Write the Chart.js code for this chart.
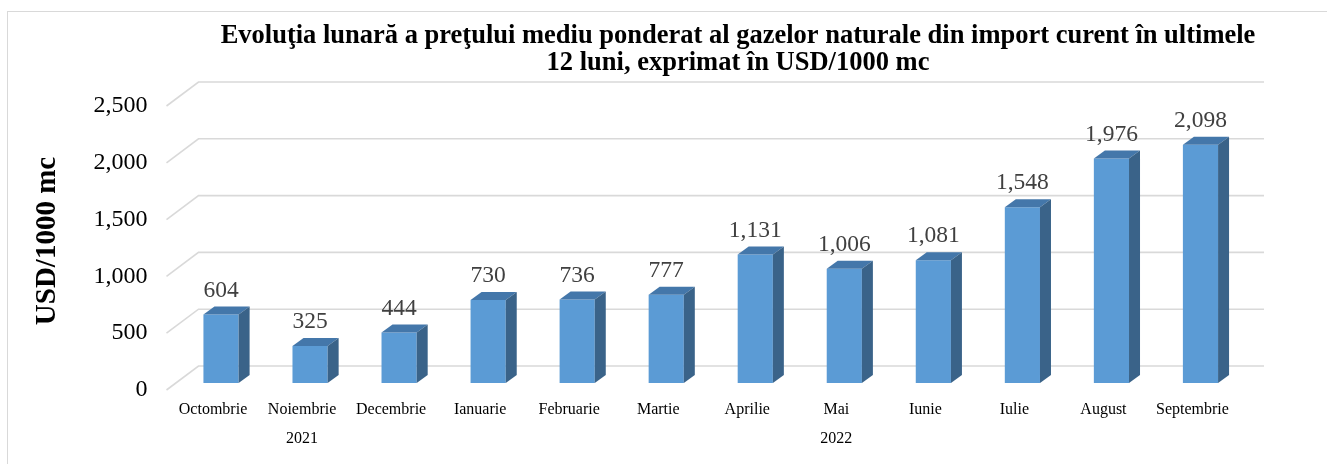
<!DOCTYPE html>
<html>
<head>
<meta charset="utf-8">
<script src="https://cdn.jsdelivr.net/npm/chart.js@4"></script>
<style>
  html, body { margin: 0; padding: 0; background: #fff; }
  #wrap { width: 1327px; height: 464px; }
</style>
</head>
<body>
<div id="wrap"><canvas id="gasChart" width="1327" height="464"></canvas></div>
<script>
/* =====================================================
   DATA
===================================================== */

const months = ["Octombrie", "Noiembrie", "Decembrie", "Ianuarie", "Februarie", "Martie",
                "Aprilie", "Mai", "Iunie", "Iulie", "August", "Septembrie"];

// year group label, placed under the middle month of each group
const years = ["", "2021", "", "", "", "", "", "2022", "", "", "", ""];

const prices = [604, 325, 444, 730, 736, 777, 1131, 1006, 1081, 1548, 1976, 2098];

const yTicks = [0, 500, 1000, 1500, 2000, 2500];

const titleLines = [
  "Evoluţia lunară a preţului mediu ponderat al gazelor naturale din import curent în ultimele",
  "12 luni, exprimat în USD/1000 mc"
];


/* =====================================================
   3D LOOK (WALL GRID, BAR SIDES, LABELS)
===================================================== */

const SERIF = "'Liberation Serif', 'Times New Roman', serif";
const depth = { dx: 11, dy: 8 };

const fakeThreeD = {
  id: "fakeThreeD",

  beforeDraw(chart) {
    const ctx = chart.ctx;
    ctx.save();
    ctx.fillStyle = "#fff";
    ctx.fillRect(0, 0, chart.width, chart.height);
    ctx.strokeStyle = "#D9D9D9";
    ctx.lineWidth = 1;
    ctx.strokeRect(7.5, 11.5, 1400, 600);

    // chart title
    ctx.fillStyle = "#000";
    ctx.font = "bold 26.5px " + SERIF;
    ctx.textAlign = "center";
    ctx.textBaseline = "middle";
    ctx.fillText(titleLines[0], 738, 36);
    ctx.fillText(titleLines[1], 738, 63);
    ctx.restore();
  },

  beforeDatasetsDraw(chart) {
    const ctx = chart.ctx;
    const area = chart.chartArea;
    const y = chart.scales.y;

    ctx.save();
    ctx.strokeStyle = "#D9D9D9";
    ctx.lineWidth = 1.6;
    yTicks.forEach(v => {
      const py = y.getPixelForValue(v);
      ctx.beginPath();
      ctx.moveTo(area.left - 10, py + 7);
      ctx.lineTo(area.left + 22, py - 17);
      ctx.lineTo(area.right + 19, py - 17);
      ctx.stroke();
    });
    ctx.restore();
  },

  afterDatasetsDraw(chart) {
    const ctx = chart.ctx;
    const meta = chart.getDatasetMeta(0);

    ctx.save();
    meta.data.forEach((bar, i) => {
      const half = bar.width / 2;
      const l = bar.x - half, r = bar.x + half;
      const t = bar.y, b = bar.base;

      // top face
      ctx.fillStyle = "#4477AA";
      ctx.beginPath();
      ctx.moveTo(l, t);
      ctx.lineTo(r, t);
      ctx.lineTo(r + depth.dx, t - depth.dy);
      ctx.lineTo(l + depth.dx, t - depth.dy);
      ctx.closePath();
      ctx.fill();

      // side face
      ctx.fillStyle = "#3A6389";
      ctx.beginPath();
      ctx.moveTo(r, t);
      ctx.lineTo(r + depth.dx, t - depth.dy);
      ctx.lineTo(r + depth.dx, b - depth.dy);
      ctx.lineTo(r, b);
      ctx.closePath();
      ctx.fill();

      // value label
      ctx.fillStyle = "#404040";
      ctx.font = "23.5px " + SERIF;
      ctx.textAlign = "center";
      ctx.textBaseline = "middle";
      ctx.fillText(prices[i].toLocaleString("en-US"), bar.x, t - 24);
    });
    ctx.restore();
  }
};


/* =====================================================
   CHART
===================================================== */

new Chart(document.getElementById("gasChart"), {
  type: "bar",
  data: {
    labels: months.map((m, i) => years[i] ? [m, years[i]] : m),
    datasets: [{
      label: "USD/1000 mc",
      data: prices,
      backgroundColor: "#5B9BD5",
      borderWidth: 0,
      categoryPercentage: 1,
      barPercentage: 0.395
    }]
  },
  options: {
    responsive: false,
    animation: false,
    locale: "en-US",
    layout: { padding: { top: 99, right: 82, bottom: 0, left: 0 } },
    plugins: {
      legend: { display: false },
      tooltip: { enabled: false }
    },
    scales: {
      x: {
        grid: { display: false, drawTicks: false },
        border: { display: false },
        ticks: {
          color: "#000",
          padding: 12,
          labelOffset: -8,
          maxRotation: 0,
          autoSkip: false,
          font: { family: SERIF, size: 16, lineHeight: "29px" }
        },
        afterFit(scale) { scale.height = 81; }
      },
      y: {
        min: 0,
        max: 2500,
        grid: { display: false, drawTicks: false },
        border: { display: false },
        afterBuildTicks(scale) { scale.ticks = yTicks.map(v => ({ value: v })); },
        ticks: {
          color: "#000",
          padding: 29,
          labelOffset: 7,
          font: { family: SERIF, size: 24 }
        },
        title: {
          display: true,
          text: "USD/1000 mc",
          color: "#000",
          padding: { top: 30, bottom: 0 },
          font: { family: SERIF, size: 29, weight: "bold" }
        },
        afterFit(scale) { scale.width = 176.5; }
      }
    }
  },
  plugins: [fakeThreeD]
});
</script>
</body>
</html>
